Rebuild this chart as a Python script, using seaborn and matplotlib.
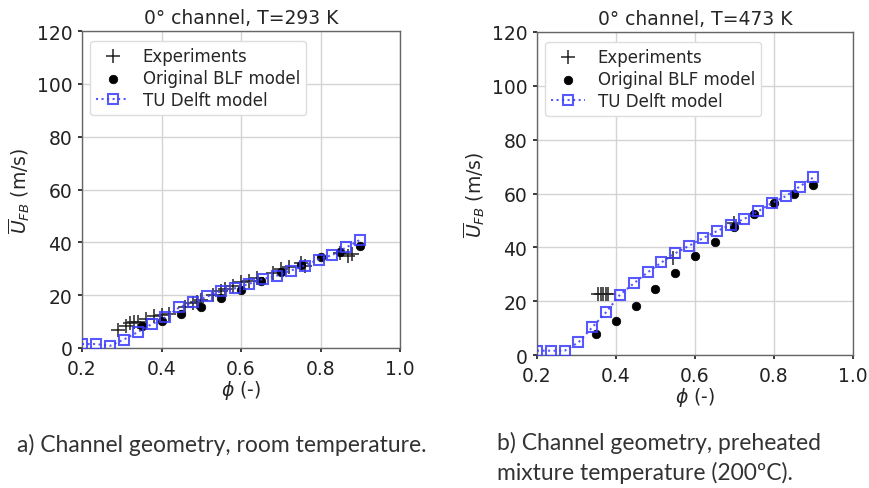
import matplotlib
matplotlib.use("Agg")
import matplotlib.pyplot as plt
import seaborn as sns
import pandas as pd

# ---------------- data ----------------
tud_phi = [0.2, 0.235, 0.27, 0.305, 0.34, 0.375, 0.41, 0.445, 0.48, 0.515, 0.55,
           0.585, 0.62, 0.655, 0.69, 0.725, 0.76, 0.795, 0.83, 0.865, 0.9]
tud_u_293 = [1.5, 1.5, 0.8, 3.2, 6.0, 9.0, 11.6, 15.4, 17.3, 19.5, 21.5,
             22.6, 24.3, 26.1, 27.4, 29.3, 31.2, 33.5, 35.2, 38.1, 41.0]
tud_u_473 = [1.6, 1.6, 1.6, 4.7, 10.3, 15.9, 22.4, 26.6, 30.7, 34.4, 37.8,
             40.6, 43.4, 46.0, 48.3, 50.6, 53.4, 56.5, 59.0, 62.6, 66.0]

blf_phi = [0.35, 0.4, 0.45, 0.5, 0.55, 0.6, 0.65, 0.7, 0.75, 0.8, 0.85, 0.9]
blf_u_293 = [8.5, 10.4, 12.9, 15.4, 18.8, 22.0, 25.5, 28.7, 31.6, 34.4, 36.3, 38.5]
blf_u_473 = [7.8, 12.8, 18.3, 24.5, 30.5, 36.6, 42.1, 47.5, 52.4, 56.5, 59.9, 63.0]

exp_phi_293 = [0.29, 0.31, 0.32, 0.33, 0.34, 0.36, 0.38, 0.40, 0.42, 0.46, 0.48,
               0.49, 0.50, 0.53, 0.55, 0.56, 0.58, 0.60, 0.62, 0.64, 0.68, 0.70,
               0.72, 0.75, 0.76, 0.85, 0.87, 0.88]
exp_u_293 = [7.0, 8.5, 9.5, 10.0, 10.0, 11.0, 12.0, 12.5, 13.0, 15.5, 17.0,
             17.5, 18.0, 20.0, 21.5, 22.5, 23.5, 25.0, 25.5, 26.5, 28.5, 30.0,
             30.5, 32.0, 31.0, 36.0, 35.0, 35.5]
exp_phi_473 = [0.355, 0.362, 0.368, 0.374, 0.38, 0.545, 0.70]
exp_u_473 = [22.5, 22.5, 22.7, 22.5, 22.6, 36.0, 49.0]

titles = ["0° channel, T=293 K", "0° channel, T=473 K"]
captions = ["a) Channel geometry, room temperature.",
            "b) Channel geometry, preheated\nmixture temperature (200ºC)."]
xticks = [0.2, 0.4, 0.6, 0.8, 1.0]
yticks = [0, 20, 40, 60, 80, 100, 120]

# ---------------- style ----------------
sns.set_theme(style="whitegrid")
plt.rcParams.update({
    "font.family": ["DejaVu Sans"],
    "axes.edgecolor": "#666666",
    "axes.linewidth": 1.0,
    "grid.color": "#d4d4d4",
    "grid.linewidth": 1.0,
    "xtick.bottom": True,
    "ytick.left": True,
    "xtick.major.size": 3,
    "ytick.major.size": 3,
    "xtick.color": "#222222",
    "ytick.color": "#222222",
})

fig = plt.figure(figsize=(8.7, 4.89), dpi=100)
ax1 = fig.add_axes([82 / 870, 1 - 349 / 489, 318 / 870, 317 / 489])
ax2 = fig.add_axes([537 / 870, 1 - 356 / 489, 316 / 870, 323 / 489])

panels = [
    (ax1, exp_phi_293, exp_u_293, blf_u_293, tud_u_293),
    (ax2, exp_phi_473, exp_u_473, blf_u_473, tud_u_473),
]

blue = "#3b3bff"
for i, (ax, ex, ey, by, ty) in enumerate(panels):
    df_exp = pd.DataFrame({"phi": ex, "u": ey})
    df_blf = pd.DataFrame({"phi": blf_phi, "u": by})
    df_tud = pd.DataFrame({"phi": tud_phi, "u": ty})
    sns.scatterplot(data=df_exp, x="phi", y="u", ax=ax, marker="+", s=100,
                    color="#222222", linewidth=1.1, label="Experiments", zorder=3)
    sns.scatterplot(data=df_blf, x="phi", y="u", ax=ax, marker="o", s=38,
                    color="black", edgecolor="black", label="Original BLF model", zorder=4)
    sns.lineplot(data=df_tud, x="phi", y="u", ax=ax, linestyle=":", marker="s",
                 markersize=7.5, markerfacecolor="none", markeredgecolor=blue,
                 markeredgewidth=1.5, color=blue, alpha=0.85, linewidth=1.5,
                 label="TU Delft model", zorder=5)
    ax.set_xlim(0.2, 1.0)
    ax.set_ylim(0, 120)
    ax.set_xticks(xticks)
    ax.set_yticks(yticks)
    ax.set_xticklabels([f"{v:.1f}" for v in xticks], fontsize=13.5)
    ax.set_yticklabels([str(v) for v in yticks], fontsize=13.5)
    ax.tick_params(axis="y", pad=4)
    ax.tick_params(axis="x", pad=5)
    ax.set_title(titles[i], fontsize=13.5, pad=6)
    ax.set_xlabel(r"$\phi$ (-)", fontsize=13.5, labelpad=0)
    ax.set_ylabel(r"$\overline{U}_{FB}$ (m/s)", fontsize=13.5, labelpad=3)
    ax.legend(loc="upper left", fontsize=12, frameon=True, framealpha=1,
              edgecolor="#dddddd", borderpad=0.35, handletextpad=0.8,
              labelspacing=0.25, bbox_to_anchor=(0.0, 0.995))

fig.text(17 / 870, 1 - 445 / 489, captions[0], fontsize=16.5, family="Lato",
         color="#333333", va="center", ha="left")
fig.text(497 / 870, 1 - 458 / 489, captions[1], fontsize=16.5, family="Lato",
         color="#333333", va="center", ha="left", linespacing=1.45)

fig.savefig("out.png", dpi=100)
